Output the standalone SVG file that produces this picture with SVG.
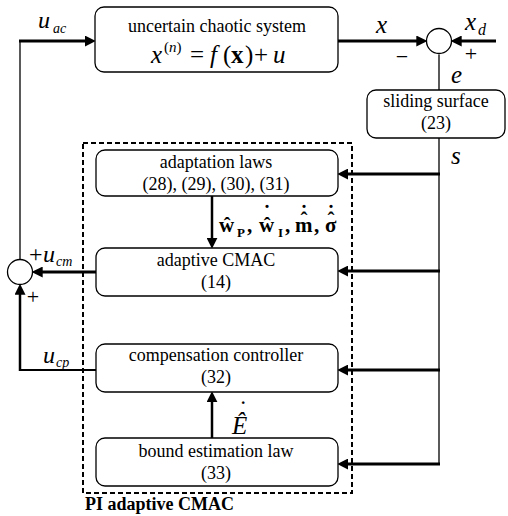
<svg xmlns="http://www.w3.org/2000/svg" width="508" height="516" viewBox="0 0 508 516">
<defs>
<marker id="ah" viewBox="0 0 10 10" refX="2" refY="5" markerWidth="11" markerHeight="11" markerUnits="userSpaceOnUse" orient="auto">
<path d="M0,0 L10,5 L0,10 z" fill="#000"/>
</marker>
</defs>
<style>
text{font-family:"Liberation Serif","Times New Roman",serif;fill:#000}
.box{fill:#fff;stroke:#000;stroke-width:1.3}
.t{font-size:18px;text-anchor:middle}
.it{font-style:italic}
.b{font-weight:bold}
.thin{stroke:#000;stroke-width:1.3;fill:none}
.thick{stroke:#000;stroke-width:3;fill:none}
.arr{marker-end:url(#ah)}
.sum{fill:#fff;stroke:#000;stroke-width:1.3}
</style>
<rect width="508" height="516" fill="#fff"/>

<g id="connectors">
<line class="thin" x1="20" y1="259.5" x2="20" y2="41"/>
<line class="thick arr" x1="19" y1="41" x2="87" y2="41"/>
<line class="thick arr" x1="338" y1="41" x2="418.5" y2="41"/>
<line class="thick arr" x1="496" y1="41" x2="459.5" y2="41"/>
<line class="thin" x1="439" y1="54.5" x2="439" y2="90"/>
<line class="thin" x1="439" y1="138" x2="439" y2="465"/>
<line class="thick arr" x1="440" y1="174" x2="346" y2="174"/>
<line class="thick arr" x1="440" y1="271" x2="346" y2="271"/>
<line class="thick arr" x1="440" y1="370" x2="346" y2="370"/>
<line class="thick arr" x1="440" y1="464" x2="346" y2="464"/>
<line class="thick arr" style="stroke-width:2.5" x1="212" y1="196" x2="212" y2="240"/>
<line class="thick arr" style="stroke-width:2.5" x1="212" y1="438" x2="212" y2="400"/>
<line class="thick arr" x1="96" y1="272" x2="40.5" y2="272"/>
<line class="thin" style="stroke-width:2" x1="96" y1="370" x2="19" y2="370"/>
<line class="thick arr" style="stroke-width:2.5" x1="20" y1="371" x2="20" y2="292.5"/>
</g>

<g id="pi-cmac">
<rect x="83" y="143" width="269" height="350" fill="none" stroke="#000" stroke-width="2" stroke-dasharray="5,3"/>
<text class="b" x="85" y="510" font-size="18">PI adaptive CMAC</text>
</g>

<g id="system">
<rect class="box" x="95" y="7" width="243" height="65" rx="9"/>
<text class="t" x="217" y="32">uncertain chaotic system</text>
<text font-size="25"><tspan class="it" x="151" y="63">x</tspan><tspan x="164" y="52" font-size="15">(</tspan><tspan class="it" font-size="15">n</tspan><tspan font-size="15">)</tspan><tspan x="190" y="63">=</tspan><tspan class="it" x="210">f</tspan><tspan x="223">(</tspan><tspan class="b" x="231">x</tspan><tspan x="245">)</tspan><tspan x="254">+</tspan><tspan class="it" x="273">u</tspan></text>
</g>

<g id="sum-error">
<circle class="sum" cx="439" cy="41" r="12.5"/>
<text class="it" x="376" y="33" font-size="25">x</text>
<text class="it" font-size="25"><tspan x="465" y="30">x</tspan><tspan x="478" y="35" font-size="16">d</tspan></text>
<text x="402" y="64" font-size="22" text-anchor="middle">−</text>
<text x="471" y="61" font-size="22" text-anchor="middle">+</text>
<text class="it" x="451" y="83" font-size="25">e</text>
</g>

<g id="sliding-surface">
<rect class="box" x="367" y="90" width="138" height="48" rx="9"/>
<text class="t" x="436" y="107">sliding surface</text>
<text class="t" x="436" y="129">(23)</text>
<text class="it" x="451" y="164" font-size="25">s</text>
</g>

<g id="adaptation-laws">
<rect class="box" x="96" y="150" width="242" height="46" rx="9"/>
<text class="t" x="216" y="168">adaptation laws</text>
<text class="t" x="216" y="190">(28), (29), (30), (31)</text>
</g>

<g id="weights-label">
<text class="b" font-size="21"><tspan x="219" y="232">ŵ</tspan><tspan x="237" y="237" font-size="13">P</tspan><tspan x="247" y="232">,</tspan><tspan x="259" y="232">ŵ</tspan><tspan x="263.5" y="220">˙</tspan><tspan x="278" y="237" font-size="13">I</tspan><tspan x="285" y="232">,</tspan><tspan x="295" y="232">m</tspan><tspan x="300.5" y="227">ˆ</tspan><tspan x="300.5" y="220">˙</tspan><tspan x="314" y="232">,</tspan><tspan x="325" y="232">σ</tspan><tspan x="327.5" y="227">ˆ</tspan><tspan x="327.5" y="220">˙</tspan></text>
</g>

<g id="adaptive-cmac">
<rect class="box" x="96" y="248" width="242" height="48" rx="9"/>
<text class="t" x="216" y="266">adaptive CMAC</text>
<text class="t" x="216" y="288">(14)</text>
</g>

<g id="sum-control">
<circle class="sum" cx="20" cy="272" r="12.5"/>
<text class="it" font-size="24"><tspan x="38" y="28">u</tspan><tspan x="53" y="33" font-size="14">ac</tspan></text>
<text font-size="24"><tspan x="29" y="262">+</tspan><tspan class="it" x="43" y="262">u</tspan><tspan class="it" x="56" y="266" font-size="14">cm</tspan></text>
<text x="33" y="304" font-size="22" text-anchor="middle">+</text>
<text class="it" font-size="24"><tspan x="43" y="363">u</tspan><tspan x="56" y="367" font-size="14">cp</tspan></text>
</g>

<g id="compensation-controller">
<rect class="box" x="96" y="344" width="242" height="48" rx="9"/>
<text class="t" x="216" y="361">compensation controller</text>
<text class="t" x="216" y="383">(32)</text>
</g>

<g id="e-hat-label">
<text font-size="25"><tspan class="it" x="232" y="434">Ê</tspan><tspan x="239" y="418">˙</tspan></text>
</g>

<g id="bound-estimation">
<rect class="box" x="96" y="438" width="242" height="48" rx="9"/>
<text class="t" x="216" y="457">bound estimation law</text>
<text class="t" x="216" y="479">(33)</text>
</g>
</svg>
